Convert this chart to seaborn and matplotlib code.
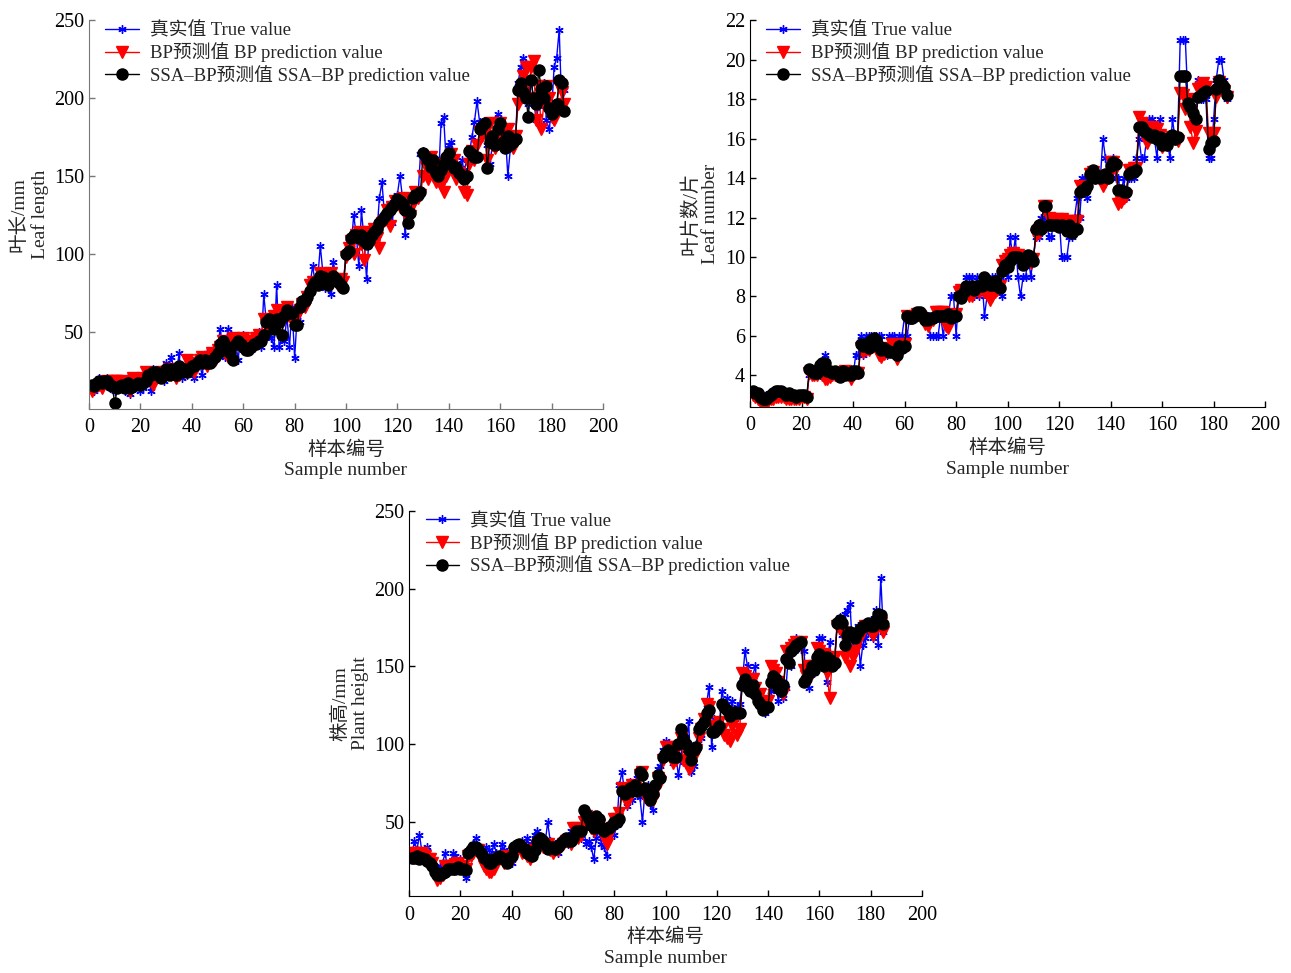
import numpy as np
import pandas as pd
import matplotlib
matplotlib.use('Agg')
import matplotlib.pyplot as plt
import seaborn as sns

# --- data (sample 1..185) ---
leaf_len_true = [
    14, 12, 19, 20, 15, 18, 20, 14, 16, 12,
    15, 14, 18, 12, 20, 10, 15, 14, 18, 12,
    14, 18, 22, 12, 26, 24, 22, 20, 18, 30,
    28, 34, 26, 22, 36, 20, 24, 22, 28, 26,
    20, 28, 30, 22, 34, 36, 30, 32, 34, 38,
    52, 40, 34, 52, 40, 34, 44, 32, 46, 48,
    42, 44, 38, 46, 48, 50, 40, 74, 56, 48,
    46, 40, 80, 40, 46, 44, 60, 40, 66, 33,
    60, 56, 70, 72, 70, 80, 92, 82, 84, 105,
    88, 78, 80, 74, 95, 86, 84, 80, 82, 100,
    110, 104, 125, 112, 92, 128, 110, 84, 112, 108,
    118, 112, 136, 146, 125, 130, 132, 120, 136, 138,
    150, 136, 112, 130, 128, 138, 140, 136, 164, 166,
    160, 150, 156, 152, 150, 148, 184, 188, 160, 170,
    172, 158, 150, 154, 160, 154, 160, 164, 175, 185,
    198, 185, 180, 182, 170, 158, 170, 176, 190, 184,
    170, 178, 150, 168, 172, 175, 210, 220, 226, 208,
    196, 212, 200, 186, 195, 205, 210, 186, 180, 190,
    220, 226, 244, 192, 205]
leaf_len_bp = [
    12, 14, 15, 16, 14, 17, 18, 16, 18, 18,
    18, 16, 18, 15, 14, 12, 20, 18, 17, 16,
    20, 24, 20, 18, 16, 20, 22, 24, 22, 24,
    26, 22, 24, 20, 22, 26, 24, 32, 30, 28,
    24, 28, 32, 34, 30, 28, 34, 36, 32, 38,
    40, 44, 36, 34, 42, 46, 44, 42, 44, 46,
    40, 42, 44, 44, 46, 48, 46, 58, 54, 56,
    54, 60, 64, 60, 56, 62, 66, 60, 58, 62,
    60, 64, 68, 66, 72, 80, 82, 80, 82, 88,
    84, 86, 80, 88, 84, 82, 80, 84, 82, 98,
    104, 108, 100, 112, 114, 106, 96, 110, 114, 112,
    116, 110, 104, 120, 122, 128, 118, 130, 134, 132,
    130, 136, 130, 122, 124, 132, 140, 136, 138, 150,
    156, 148, 162, 150, 146, 158, 144, 140, 150, 160,
    164, 160, 148, 152, 150, 140, 138, 158, 166, 160,
    170, 178, 176, 180, 160, 184, 170, 168, 178, 184,
    176, 170, 180, 172, 168, 176, 196, 200, 214, 220,
    200, 220, 224, 186, 208, 180, 196, 208, 200, 188,
    186, 194, 208, 204, 196]
leaf_len_ssa = [
    16, 15, 17, 18, 17, 18, 18, 16, 15, 4,
    14, 15, 16, 14, 17, 14, 15, 16, 17, 16,
    17, 18, 22, 22, 24, 24, 22, 20, 22, 26,
    22, 26, 24, 22, 28, 24, 26, 24, 26, 28,
    28, 30, 32, 30, 32, 30, 30, 32, 34, 36,
    42, 44, 38, 40, 36, 32, 42, 44, 42, 40,
    38, 38, 40, 42, 42, 44, 44, 48, 56, 58,
    56, 52, 58, 56, 48, 60, 64, 62, 62, 54,
    54, 66, 70, 70, 72, 76, 80, 82, 80, 86,
    85, 82, 80, 84, 86, 84, 82, 80, 78, 100,
    102, 110, 112, 112, 110, 112, 108, 106, 108, 112,
    114, 116, 120, 122, 124, 126, 128, 130, 132, 135,
    134, 132, 128, 120, 126, 136, 138, 138, 140, 165,
    162, 160, 156, 160, 152, 150, 154, 158, 162, 165,
    158, 155, 156, 152, 150, 148, 150, 166, 164, 162,
    162, 180, 182, 184, 155, 172, 176, 170, 180, 184,
    172, 168, 176, 170, 172, 174, 205, 210, 204, 200,
    188, 212, 200, 196, 218, 206, 200, 208, 194, 190,
    192, 196, 212, 210, 192]

leaf_num_true = [
    3, 3, 3, 3, 3, 3, 3, 3, 3, 3,
    3, 3, 3, 3, 3, 3, 3, 3, 3, 3,
    3, 3, 4, 4, 4, 4, 4, 4, 5, 4,
    4, 4, 4, 4, 4, 4, 4, 4, 4, 4,
    5, 5, 6, 5, 6, 6, 6, 6, 6, 6,
    6, 5, 5, 6, 6, 6, 5, 6, 6, 7,
    6, 7, 7, 7, 7, 7, 7, 7, 7, 6,
    6, 6, 6, 7, 6, 7, 7, 8, 8, 6,
    8, 8, 8, 9, 9, 9, 8, 9, 8, 9,
    7, 8, 8, 9, 9, 9, 9, 8, 10, 9,
    11, 10, 11, 9, 8, 9, 9, 10, 9, 10,
    11, 11, 12, 12, 12, 11, 11, 12, 12, 12,
    10, 10, 10, 11, 11, 12, 13, 12, 14, 14,
    13, 14, 14, 14, 14, 14, 16, 15, 14, 14,
    15, 14, 14, 13, 14, 13, 14, 14, 14, 15,
    16, 15, 15, 16, 17, 17, 16, 15, 17, 16,
    16, 16, 15, 17, 16, 16, 21, 21, 21, 18,
    18, 17, 17, 19, 18, 18, 18, 15, 15, 17,
    19, 20, 20, 19, 18]
leaf_num_bp = [
    3.0, 2.9, 2.8, 2.7, 2.6, 2.6, 2.7, 2.8, 2.8, 2.9,
    2.9, 2.9, 2.9, 2.8, 2.8, 2.8, 2.8, 2.8, 2.8, 2.9,
    2.9, 2.8, 4.1, 4.0, 4.0, 4.0, 4.2, 4.0, 3.8, 3.8,
    3.9, 4.0, 4.0, 4.0, 4.0, 4.1, 4.2, 4.0, 3.8, 4.0,
    4.1, 4.1, 5.4, 5.2, 5.3, 5.3, 5.5, 5.6, 5.4, 5.0,
    4.9, 5.1, 5.2, 5.4, 5.6, 5.3, 4.8, 5.3, 5.4, 5.6,
    7.0, 6.9, 6.9, 7.0, 7.1, 7.0, 6.8, 6.6, 6.5, 6.7,
    6.8, 7.2, 7.2, 7.2, 7.2, 6.5, 6.4, 6.8, 7.0, 7.1,
    8.2, 8.3, 8.2, 8.1, 8.0, 8.0, 8.2, 8.3, 8.2, 8.4,
    8.2, 8.1, 7.8, 8.0, 8.2, 8.3, 8.5, 9.6, 9.8, 9.9,
    10.1, 10.2, 10.1, 10.1, 9.9, 9.8, 9.8, 10.0, 9.7, 9.9,
    11.1, 11.2, 11.4, 12.6, 12.6, 12.0, 11.9, 11.8, 11.9, 11.8,
    11.9, 11.8, 11.7, 11.7, 11.8, 11.8, 11.8, 13.6, 13.5, 13.4,
    13.5, 14.2, 14.3, 14.0, 14.1, 14.1, 13.6, 13.8, 14.0, 14.8,
    14.8, 14.5, 12.7, 12.8, 13.0, 13.1, 14.4, 14.4, 14.5, 14.5,
    17.1, 16.8, 16.5, 15.8, 16.4, 16.6, 16.3, 16.5, 16.2, 15.6,
    15.9, 15.7, 15.8, 16.1, 16.0, 15.9, 18.3, 18.2, 17.5, 18.0,
    16.6, 15.8, 16.4, 18.5, 18.6, 18.8, 18.6, 16.3, 16.2, 16.3,
    18.1, 18.9, 18.6, 18.4, 18.1]
leaf_num_ssa = [
    3.2, 3.1, 3.1, 2.9, 2.8, 2.8, 2.9, 3.0, 3.1, 3.2,
    3.2, 3.2, 3.1, 3.0, 3.1, 3.0, 3.0, 2.9, 3.0, 3.0,
    3.0, 2.9, 4.3, 4.2, 4.1, 4.1, 4.5, 4.6, 4.6, 4.2,
    4.2, 4.1, 4.2, 4.1, 3.9, 4.2, 4.0, 4.1, 4.0, 4.2,
    4.2, 4.1, 5.6, 5.5, 5.6, 5.4, 5.8, 5.9, 5.8, 5.5,
    5.3, 5.4, 5.3, 5.2, 5.2, 5.2, 5.0, 5.5, 5.4, 5.5,
    7.0, 6.9, 6.9, 7.0, 7.2, 7.2, 7.0, 6.8, 6.8, 6.9,
    6.9, 7.0, 7.0, 7.0, 7.0, 7.0, 7.1, 6.9, 7.0, 7.0,
    8.0, 7.9, 8.2, 8.5, 8.4, 8.5, 8.3, 8.5, 8.5, 8.5,
    9.0, 8.8, 8.6, 8.6, 8.8, 8.5, 8.4, 9.3, 9.6, 9.5,
    9.8, 10.0, 10.0, 10.0, 9.9, 9.6, 9.8, 10.1, 10.0, 9.8,
    11.4, 11.6, 11.4, 12.6, 12.6, 11.6, 11.6, 11.6, 11.6, 11.5,
    11.6, 11.5, 11.3, 11.6, 11.2, 11.4, 11.4, 13.3, 13.4, 13.4,
    13.6, 14.2, 14.4, 14.0, 14.1, 14.0, 14.1, 14.2, 14.0, 14.6,
    14.8, 14.7, 13.4, 13.4, 13.3, 13.3, 14.2, 14.3, 14.3, 14.4,
    16.6, 16.6, 16.4, 16.3, 16.2, 16.1, 16.2, 16.0, 16.1, 15.7,
    16.0, 15.7, 16.1, 16.2, 16.0, 16.1, 19.2, 19.2, 19.2, 17.8,
    17.6, 17.3, 17.0, 18.1, 18.2, 18.3, 18.4, 15.5, 15.8, 15.9,
    18.5, 19.0, 18.8, 18.6, 18.2]

height_true = [
    28, 38, 32, 42, 30, 28, 34, 26, 22, 20,
    16, 22, 24, 30, 20, 22, 30, 28, 22, 26,
    20, 14, 30, 32, 36, 40, 34, 30, 28, 34,
    32, 28, 36, 30, 26, 36, 32, 28, 26, 24,
    32, 34, 36, 38, 30, 40, 34, 36, 42, 44,
    38, 40, 36, 50, 38, 34, 36, 30, 36, 38,
    40, 36, 44, 42, 46, 44, 40, 46, 36, 38,
    34, 26, 40, 44, 36, 34, 28, 44, 48, 42,
    48, 74, 82, 70, 60, 76, 64, 72, 78, 66,
    50, 70, 74, 62, 58, 68, 84, 86, 96, 102,
    100, 92, 88, 94, 80, 90, 108, 96, 115, 82,
    86, 100, 112, 104, 116, 126, 137, 98, 116, 114,
    112, 134, 126, 130, 120, 128, 114, 124, 126, 140,
    160, 150, 140, 144, 150, 134, 126, 128, 120, 126,
    134, 142, 140, 128, 136, 130, 136, 158, 150, 160,
    168, 164, 162, 160, 140, 136, 150, 146, 156, 168,
    168, 150, 140, 166, 152, 154, 178, 182, 170, 184,
    186, 190, 160, 170, 176, 150, 164, 168, 172, 180,
    168, 186, 164, 207, 172]
height_bp = [
    30, 30, 30, 28, 30, 28, 26, 26, 24, 16,
    13, 14, 16, 22, 22, 22, 22, 23, 24, 22,
    22, 20, 28, 28, 30, 32, 32, 26, 22, 20,
    18, 18, 20, 24, 26, 26, 24, 28, 26, 26,
    30, 32, 34, 30, 32, 28, 26, 28, 30, 34,
    36, 34, 34, 36, 32, 30, 32, 32, 34, 36,
    38, 38, 36, 46, 46, 40, 42, 50, 54, 50,
    46, 44, 50, 48, 44, 40, 36, 42, 46, 52,
    52, 56, 72, 70, 62, 68, 74, 72, 70, 80,
    82, 66, 64, 66, 64, 70, 78, 76, 90, 98,
    98, 96, 88, 90, 98, 104, 90, 88, 84, 86,
    92, 96, 104, 110, 116, 126, 124, 112, 110, 112,
    114, 110, 106, 104, 102, 112, 118, 106, 110, 146,
    144, 138, 140, 142, 136, 130, 132, 124, 126, 128,
    150, 148, 146, 140, 136, 132, 160, 158, 162, 164,
    166, 164, 166, 148, 144, 150, 146, 150, 162, 160,
    156, 158, 146, 130, 152, 156, 176, 174, 172, 156,
    160, 150, 156, 160, 166, 170, 172, 176, 176, 172,
    170, 174, 176, 178, 172]
height_ssa = [
    27, 27, 28, 26, 27, 26, 25, 24, 22, 18,
    16, 16, 17, 18, 20, 20, 20, 20, 21, 20,
    20, 19, 30, 32, 34, 34, 33, 30, 27, 26,
    24, 24, 26, 26, 28, 27, 26, 24, 27, 28,
    34, 35, 36, 34, 33, 30, 29, 28, 32, 38,
    40, 38, 36, 33, 34, 34, 33, 34, 36, 38,
    40, 38, 38, 40, 44, 44, 44, 58, 55, 52,
    48, 46, 54, 52, 46, 44, 46, 46, 48, 50,
    50, 52, 70, 68, 70, 72, 70, 74, 70, 82,
    80, 72, 68, 64, 68, 74, 80, 78, 92, 95,
    96, 94, 92, 92, 100, 110, 104, 100, 96, 90,
    96, 98, 110, 112, 114, 120, 122, 108, 108, 110,
    112, 126, 124, 122, 118, 120, 121, 120, 120, 138,
    142, 136, 134, 138, 132, 128, 126, 122, 124, 124,
    140, 144, 142, 136, 134, 138, 155, 152, 160, 162,
    164, 165, 166, 140, 142, 146, 150, 148, 156, 158,
    152, 150, 156, 154, 150, 152, 178, 180, 178, 164,
    170, 172, 170, 168, 172, 174, 176, 176, 178, 176,
    176, 180, 184, 183, 177]

legend_labels = ['真实值 True value', 'BP预测值 BP prediction value',
                 'SSA–BP预测值 SSA–BP prediction value']
xlabel = '样本编号\nSample number'

sns.set_style('ticks')
plt.rcParams['font.family'] = ['Liberation Serif', 'Noto Sans CJK SC']
plt.rcParams['xtick.direction'] = 'in'
plt.rcParams['ytick.direction'] = 'in'


def draw_panel(ax, true_v, bp_v, ssa_v, ylabel, ylim, yticks, spine_col):
    df = pd.DataFrame({
        'x': np.concatenate([np.arange(1, len(v) + 1) for v in (true_v, bp_v, ssa_v)]),
        'y': np.concatenate([true_v, bp_v, ssa_v]).astype(float),
        's': [legend_labels[0]] * len(true_v) + [legend_labels[1]] * len(bp_v)
             + [legend_labels[2]] * len(ssa_v),
    })
    # asterisk for true values, like the original MATLAB '*'
    styles = [('blue', (6, 2, 0), 6, 1.0), ('red', 'v', 8, 1.0), ('black', 'o', 8, 1.0)]
    for lab, (col, mk, ms, mew) in zip(legend_labels, styles):
        sub = df[df['s'] == lab]
        sns.lineplot(data=sub, x='x', y='y', ax=ax, color=col, marker=mk,
                     markersize=ms, markeredgecolor=col, markeredgewidth=mew,
                     linewidth=1, label=lab, estimator=None, sort=False)
    ax.set_xlim(0, 200)
    ax.set_ylim(*ylim)
    ax.set_xticks(range(0, 201, 20))
    ax.set_yticks(yticks)
    ax.set_xlabel(xlabel, fontsize=14, linespacing=1.3, labelpad=2)
    ax.set_ylabel(ylabel, fontsize=14, linespacing=1.2)
    ax.tick_params(labelsize=14.5, length=4, width=1, colors=spine_col,
                   labelcolor='black')
    ax.tick_params(axis='x', pad=7)
    for side in ('top', 'right'):
        ax.spines[side].set_visible(False)
    for side in ('left', 'bottom'):
        ax.spines[side].set_color(spine_col)
    ax.legend(loc='upper left', bbox_to_anchor=(0.01, 1.025), frameon=False,
              fontsize=13.5, handlelength=1.8, labelspacing=0.15,
              handletextpad=0.55, borderaxespad=0.2)


fig = plt.figure(figsize=(12.91, 9.73), dpi=100)
ax1 = fig.add_axes([0.069, 0.580, 0.398, 0.399])
ax2 = fig.add_axes([0.581, 0.582, 0.399, 0.397])
ax3 = fig.add_axes([0.317, 0.079, 0.397, 0.396])

draw_panel(ax1, leaf_len_true, leaf_len_bp, leaf_len_ssa, '叶长/mm\nLeaf length',
           (0.5, 250), [50, 100, 150, 200, 250], '#777777')
draw_panel(ax2, leaf_num_true, leaf_num_bp, leaf_num_ssa, '叶片数/片\nLeaf number',
           (2.4, 22), list(range(4, 23, 2)), 'black')
draw_panel(ax3, height_true, height_bp, height_ssa, '株高/mm\nPlant height',
           (2.4, 250), [50, 100, 150, 200, 250], 'black')

fig.savefig('out.png', dpi=100)
